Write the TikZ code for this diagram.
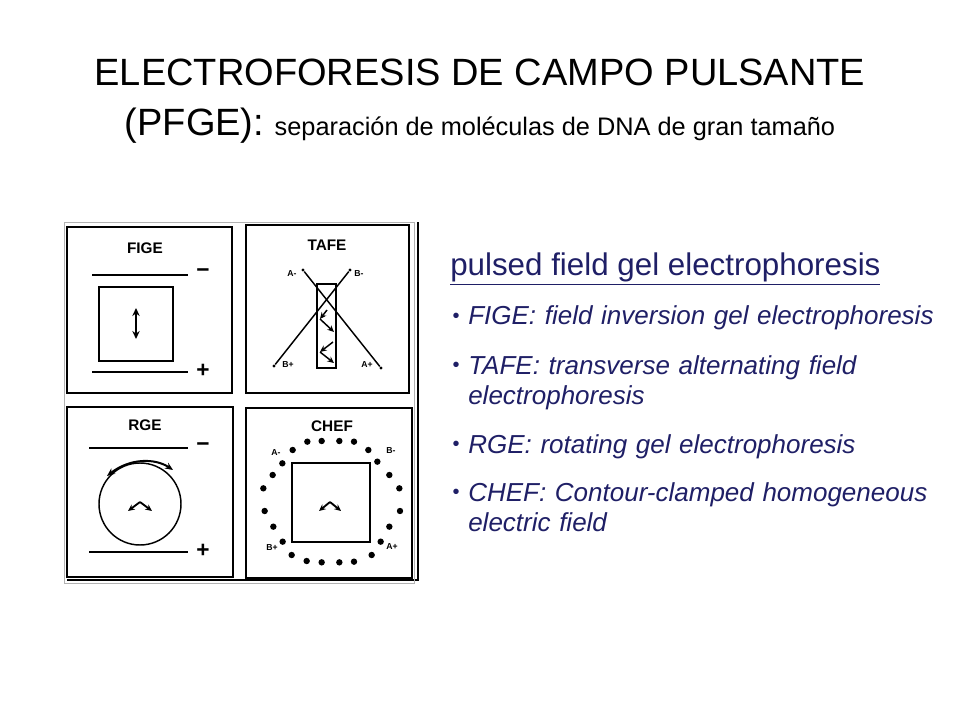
\documentclass[tikz,border=0pt]{standalone}
\usepackage{fontspec}
\setmainfont{Liberation Sans}
\usetikzlibrary{arrows.meta}
\definecolor{navy}{HTML}{1F1F66}
\begin{document}
\begin{tikzpicture}[x=0.75pt,y=-0.75pt,
  panel/.style={draw,line width=1.2pt},
  ttl/.style={font=\bfseries\fontsize{11.5}{12}\selectfont},
  lab/.style={font=\bfseries\fontsize{6.5}{7}\selectfont,inner sep=0pt},
  elec/.style={line width=1.6pt},
  arr/.style={line width=1.4pt,-{Stealth[length=5pt,width=4.5pt]}},
  dot/.style={circle,fill,inner sep=0pt,minimum size=4.8pt},
  sdot/.style={circle,fill,inner sep=0pt,minimum size=2.6pt},
  sign/.style={font=\fontsize{17}{17}\selectfont\bfseries},
  bl/.style={anchor=base west,text=navy,font=\itshape\fontsize{19.5}{22.5}\selectfont,inner sep=0pt,align=left,text width=380pt}]
\useasboundingbox (0,0) rectangle (960,720);
% title
\node (t1) at (480,72) {\fontsize{28.5}{30}\selectfont ELECTROFORESIS DE CAMPO PULSANTE};
\node (t2) at (480,126) {\fontsize{28.5}{30}\selectfont (PFGE):\ \fontsize{19}{20}\selectfont separación de moléculas de DNA de gran tamaño};
% outer shadow frame
\draw[line width=1.5pt] (67,580) -- (418,580) -- (418,222);
\draw[line width=0.5pt,gray!60] (64,222) rectangle (414,583);
% panels
\draw[panel] (67,227) rectangle (232,393);
\draw[panel] (246,225) rectangle (409,393);
\draw[panel] (67,407) rectangle (233,577);
\draw[panel] (246,408) rectangle (412,578);
% FIGE
\node[ttl] (fige) at (145,248) {FIGE};
\draw[elec] (92,275) -- (188,275);
\node[sign] (fm) at (203,273) {−};
\draw[line width=1pt] (99,287) rectangle (173,361);
\draw[line width=1.6pt,{Stealth[length=6pt,width=5.5pt]}-{Stealth[length=6pt,width=5.5pt]}] (136,308) -- (136,339);
\draw[elec] (92,372) -- (188,372);
\node[sign] (fp) at (203,371) {+};
% TAFE
\node[ttl] (tafe) at (327,245) {TAFE};
\node[sdot] (am) at (303,270) {}; \node[sdot] (ap) at (381,368) {};
\node[sdot] (bm) at (350,270) {}; \node[sdot] (bp) at (274,366) {};
\draw[line width=1.1pt] (am) -- (ap); \draw[line width=1.1pt] (bm) -- (bp);
\node[lab] at (292,274) {A-}; \node[lab] at (359,274) {B-};
\node[lab] at (288,365) {B+}; \node[lab] at (367,365) {A+};
\draw[line width=1pt] (317,284) rectangle (336,368);
\coordinate (p1) at (327,310); \coordinate (p2) at (320,319); \coordinate (p3) at (334,332);
\coordinate (p4) at (333,342); \coordinate (p5) at (320,352); \coordinate (p6) at (334,363);
\draw[arr,line width=1.1pt] (p1) -- (p2); \draw[arr,line width=1.1pt] (p2) -- (p3);
\draw[arr,line width=1.1pt] (p4) -- (p5); \draw[arr,line width=1.1pt] (p5) -- (p6);
% RGE
\node[ttl] (rge) at (145,425) {RGE};
\draw[elec] (89,448) -- (188,448);
\node[sign] (rm) at (203,447) {−};
\node[draw,circle,line width=1.1pt,minimum size=61.5pt,inner sep=0pt] (circ) at (140,504) {};
\draw[line width=1.5pt,{Stealth[length=6pt,width=5pt]}-{Stealth[length=6pt,width=5pt]}] (107,476) .. controls (130,458) and (155,458) .. (173,470);
\coordinate (r1) at (128,511); \coordinate (r2) at (140,502); \coordinate (r3) at (152,511);
\draw[arr] (r2) -- (r1); \draw[arr] (r2) -- (r3);
\draw[elec] (89,552) -- (188,552);
\node[sign] (rp) at (203,551) {+};
% CHEF
\node[ttl] (chef) at (332,426) {CHEF};
\draw[line width=1pt] (292,463) rectangle (370,542);
\foreach \x/\y in {742/680,785/678,838/678,882/680,698/705,925/705,667/745,952/740,638/780,988/780,610/820,1018/820,614/888,1020/888,640/935,988/935,668/980,962/980,695/1020,935/1020,740/1038,785/1042,838/1042,882/1040}
  \node[dot] at ({\x/3+60},{\y/3+215}) {};
\node[lab] at (276,453) {A-}; \node[lab] at (391,451) {B-};
\node[lab] at (272,548) {B+}; \node[lab] at (392,547) {A+};
\coordinate (c1) at (319,511); \coordinate (c2) at (330,502); \coordinate (c3) at (341,511);
\draw[arr] (c2) -- (c1); \draw[arr] (c2) -- (c3);
% right text
\node[anchor=base west,text=navy,inner sep=0pt] (h) at (450,276) {\fontsize{23.5}{26}\selectfont\underline{pulsed field gel electrophoresis}};
\foreach \y in {318,367,446,494} \node[text=navy,inner sep=0pt] at (456,\y) {\fontsize{15}{15}\selectfont•};
\node[bl] (b1) at (468,325) {FIGE: field inversion gel electrophoresis};
\node[bl] (b2) at (468,374) {TAFE: transverse alternating field\\\hspace*{0pt}electrophoresis};
\node[bl] (b3) at (468,453) {RGE: rotating gel electrophoresis};
\node[bl] (b4) at (468,501) {CHEF: Contour-clamped homogeneous\\electric field};
\end{tikzpicture}
\end{document}
